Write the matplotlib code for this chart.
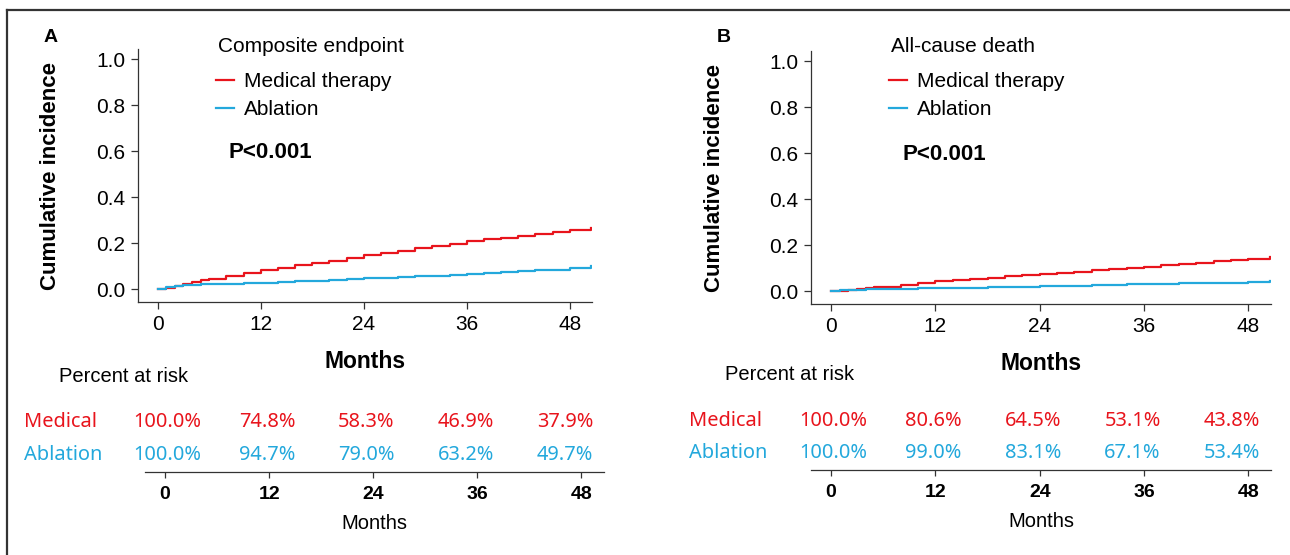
import numpy as np
import matplotlib.pyplot as plt
from matplotlib.lines import Line2D

plt.rcParams['font.family'] = ['Liberation Sans', 'DejaVu Sans']

RED = '#e8141c'
BLUE = '#23a8dc'

# months of follow-up at which the curves were read
months = [0, 1, 2, 3, 4, 5, 6, 8, 10, 12, 14, 16, 18, 20, 22, 24, 26, 28,
          30, 32, 34, 36, 38, 40, 42, 44, 46, 48, 50.5]

# A: composite endpoint
comp_med = [0, 0.008, 0.015, 0.025, 0.032, 0.040, 0.046, 0.058, 0.070, 0.084,
            0.094, 0.105, 0.115, 0.125, 0.137, 0.149, 0.158, 0.168, 0.178,
            0.188, 0.199, 0.211, 0.218, 0.225, 0.233, 0.241, 0.249, 0.258, 0.268]
comp_abl = [0, 0.010, 0.014, 0.018, 0.020, 0.022, 0.023, 0.025, 0.027, 0.029,
            0.032, 0.035, 0.038, 0.041, 0.045, 0.048, 0.051, 0.054, 0.057,
            0.060, 0.063, 0.066, 0.070, 0.074, 0.078, 0.082, 0.086, 0.091, 0.101]

# B: all-cause death
death_med = [0, 0.003, 0.008, 0.011, 0.014, 0.017, 0.020, 0.027, 0.035, 0.043,
             0.048, 0.054, 0.060, 0.065, 0.070, 0.076, 0.081, 0.086, 0.092,
             0.097, 0.103, 0.108, 0.113, 0.119, 0.124, 0.130, 0.135, 0.141, 0.148]
death_abl = [0, 0.004, 0.007, 0.008, 0.009, 0.010, 0.011, 0.012, 0.013, 0.014,
             0.015, 0.016, 0.018, 0.019, 0.020, 0.022, 0.024, 0.025, 0.027,
             0.028, 0.030, 0.032, 0.034, 0.035, 0.036, 0.037, 0.038, 0.040, 0.045]

risk_months = [0, 12, 24, 36, 48]
risk_comp_med = ['100.0%', '74.8%', '58.3%', '46.9%', '37.9%']
risk_comp_abl = ['100.0%', '94.7%', '79.0%', '63.2%', '49.7%']
risk_death_med = ['100.0%', '80.6%', '64.5%', '53.1%', '43.8%']
risk_death_abl = ['100.0%', '99.0%', '83.1%', '67.1%', '53.4%']

W, H = 1290, 555
fig = plt.figure(figsize=(W / 100, H / 100), dpi=100)


def fx(px):
    return px / W


def fy(py):
    return 1 - py / H


def km_panel(rect, letter, title, med, abl, label_x):
    ax = fig.add_axes(rect)
    ax.step(months, med, where='post', color=RED, lw=1.6, label='Medical therapy')
    ax.step(months, abl, where='post', color=BLUE, lw=1.6, label='Ablation')
    ax.set_xlim(-2.3, 50.6)
    ax.set_ylim(-0.055, 1.045)
    ax.set_xticks(risk_months)
    ax.set_yticks([0, 0.2, 0.4, 0.6, 0.8, 1.0])
    ax.set_yticklabels(['0.0', '0.2', '0.4', '0.6', '0.8', '1.0'])
    for s in ['top', 'right']:
        ax.spines[s].set_visible(False)
    for s in ['left', 'bottom']:
        ax.spines[s].set_color('#333333')
        ax.spines[s].set_linewidth(0.9)
    ax.tick_params(labelsize=15, length=5, width=0.9, color='#333333', pad=4)
    ax.set_xlabel('Months', fontsize=16.5, fontweight='bold', labelpad=12)
    ax.set_ylabel('Cumulative incidence', fontsize=16, fontweight='bold')
    ax.yaxis.set_label_coords(-(rect[0] * W - label_x) / (rect[2] * W), 0.5)

    # endpoint name sits above the legend entries
    fig.text(rect[0] + fx(80), fy(47), title, fontsize=15, va='center')
    ax.legend(loc='upper left', frameon=False,
              bbox_to_anchor=(rect[0] + fx(78), fy(72)),
              bbox_transform=fig.transFigure, fontsize=15,
              handlelength=0.85, handletextpad=0.5,
              labelspacing=0.45, borderpad=0, borderaxespad=0)
    ax.text(0.2, 0.59, 'P<0.001', transform=ax.transAxes, fontsize=16,
            fontweight='bold', va='center')
    fig.text(rect[0] - fx(94), fy(37), letter, fontsize=14, fontweight='bold',
             va='center')
    return ax


def risk_table(rect, med, abl):
    ax = fig.add_axes(rect)
    ax.set_xlim(-2.3, 50.6)
    ax.set_ylim(0, 1)
    ax.set_xticks(risk_months)
    ax.set_yticks([])
    for s in ['top', 'right', 'left']:
        ax.spines[s].set_visible(False)
    ax.spines['bottom'].set_color('#333333')
    ax.spines['bottom'].set_linewidth(0.9)
    ax.tick_params(axis='x', length=4, width=0.9, color='#333333', pad=6)
    for t in ax.get_xticklabels():
        t.set_fontsize(14)
        t.set_fontweight('bold')
    ax.set_xlabel('Months', fontsize=14.5, labelpad=8)
    ax.patch.set_visible(False)
    ax.text(-12.2, 1.43, 'Percent at risk', fontsize=14.5, va='center')
    tf = ['Noto Sans', 'DejaVu Sans']
    ax.text(-16.3, 0.74, 'Medical', color=RED, fontsize=14.4, family=tf, va='center')
    ax.text(-16.3, 0.25, 'Ablation', color=BLUE, fontsize=14.4, family=tf, va='center')
    for i, m in enumerate(risk_months):
        cx = m * 0.955 + 0.3
        ax.text(cx, 0.74, med[i], color=RED, fontsize=14.4, family=tf,
                ha='center', va='center', clip_on=False)
        ax.text(cx, 0.25, abl[i], color=BLUE, fontsize=14.4, family=tf,
                ha='center', va='center', clip_on=False)
    return ax


km_panel([fx(138), fy(302), fx(454), (302 - 49) / H], 'A', 'Composite endpoint',
         comp_med, comp_abl, 61)
km_panel([fx(811), fy(304), fx(460), (304 - 51) / H], 'B', 'All-cause death',
         death_med, death_abl, 725)

risk_table([fx(145), fy(471.7), fx(459), 66.6 / H], risk_comp_med, risk_comp_abl)
risk_table([fx(811), fy(470), fx(460), 66.6 / H], risk_death_med, risk_death_abl)

# frame lines along the top and left edges
fig.add_artist(Line2D([fx(6.5), 1], [fy(10), fy(10)], color='#333333', lw=1.6))
fig.add_artist(Line2D([fx(6.5), fx(6.5)], [0, fy(10)], color='#333333', lw=1.6))

fig.savefig('out.png', dpi=100)
